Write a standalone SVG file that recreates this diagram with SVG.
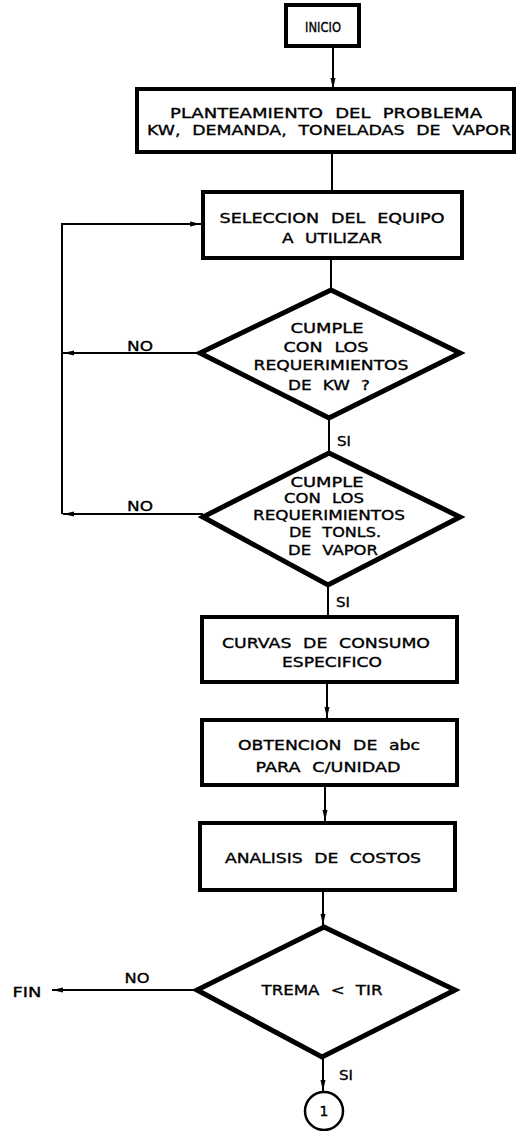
<svg xmlns="http://www.w3.org/2000/svg" width="517" height="1131" viewBox="0 0 517 1131">
<style>
.box{fill:#fff;stroke:#000;stroke-width:4}
.dia{fill:#fff;stroke:#000;stroke-width:5;stroke-linejoin:miter}
.ln{fill:none;stroke:#000;stroke-width:2}
text{font-family:"DejaVu Sans","Liberation Sans",sans-serif;font-size:14px;fill:#000;stroke:#000;stroke-width:0.35;text-anchor:middle;dominant-baseline:central;word-spacing:5px}
</style>
<defs>
<marker id="ah" markerUnits="userSpaceOnUse" markerWidth="12" markerHeight="6" refX="11" refY="3" orient="auto">
<path d="M0,0.5 L11,3 L0,5.5 Z" fill="#000"/>
</marker>
</defs>
<g id="connectors">
<line class="ln" x1="333" y1="46" x2="333" y2="89" marker-end="url(#ah)"/>
<line class="ln" x1="332" y1="152" x2="332" y2="192"/>
<line class="ln" x1="331" y1="258" x2="331" y2="290"/>
<line class="ln" x1="329" y1="418" x2="329" y2="453"/>
<line class="ln" x1="200" y1="353" x2="63" y2="353" marker-end="url(#ah)"/>
<line class="ln" x1="203" y1="514" x2="63" y2="514" marker-end="url(#ah)"/>
<polyline class="ln" points="62,514 62,224 201,224" marker-end="url(#ah)"/>
<line class="ln" x1="328" y1="585" x2="328" y2="617"/>
<line class="ln" x1="327" y1="682" x2="327" y2="718" marker-end="url(#ah)"/>
<line class="ln" x1="325" y1="785" x2="325" y2="821" marker-end="url(#ah)"/>
<line class="ln" x1="323" y1="890" x2="323" y2="925" marker-end="url(#ah)"/>
<line class="ln" x1="197" y1="990" x2="52" y2="990" marker-end="url(#ah)"/>
<line class="ln" x1="323" y1="1057" x2="323" y2="1091" marker-end="url(#ah)"/>
<text x="140" y="346" textLength="26" lengthAdjust="spacingAndGlyphs">NO</text>
<text x="344" y="441" textLength="14" lengthAdjust="spacingAndGlyphs">SI</text>
<text x="140" y="506" textLength="26" lengthAdjust="spacingAndGlyphs">NO</text>
<text x="343" y="602" textLength="14" lengthAdjust="spacingAndGlyphs">SI</text>
<text x="137" y="978" textLength="25" lengthAdjust="spacingAndGlyphs">NO</text>
<text x="346" y="1075" textLength="14" lengthAdjust="spacingAndGlyphs">SI</text>
</g>
<g id="inicio">
<rect class="box" x="286" y="5" width="73" height="41"/>
<text x="323" y="27" textLength="36" lengthAdjust="spacingAndGlyphs">INICIO</text>
</g>
<g id="planteamiento">
<rect class="box" x="137" y="89" width="377" height="63"/>
<text x="326" y="113" textLength="312" lengthAdjust="spacingAndGlyphs">PLANTEAMIENTO DEL PROBLEMA</text>
<text x="329" y="130" textLength="364" lengthAdjust="spacingAndGlyphs">KW, DEMANDA, TONELADAS DE VAPOR</text>
</g>
<g id="seleccion">
<rect class="box" x="203" y="192" width="259" height="66"/>
<text x="332" y="218" textLength="225" lengthAdjust="spacingAndGlyphs">SELECCION DEL EQUIPO</text>
<text x="332" y="238" textLength="100" lengthAdjust="spacingAndGlyphs">A UTILIZAR</text>
</g>
<g id="decision-kw">
<polygon class="dia" points="331,290 460,353 329,418 200,353"/>
<text x="327" y="328" textLength="73" lengthAdjust="spacingAndGlyphs">CUMPLE</text>
<text x="326" y="347" textLength="85" lengthAdjust="spacingAndGlyphs">CON LOS</text>
<text x="331" y="365" textLength="155" lengthAdjust="spacingAndGlyphs">REQUERIMIENTOS</text>
<text x="329" y="385" textLength="82" lengthAdjust="spacingAndGlyphs">DE KW ?</text>
</g>
<g id="decision-vapor">
<polygon class="dia" points="329,453 460,517 328,585 203,517"/>
<text x="327" y="482" textLength="73" lengthAdjust="spacingAndGlyphs">CUMPLE</text>
<text x="324" y="498" textLength="80" lengthAdjust="spacingAndGlyphs">CON LOS</text>
<text x="329" y="515" textLength="152" lengthAdjust="spacingAndGlyphs">REQUERIMIENTOS</text>
<text x="335" y="532" textLength="92" lengthAdjust="spacingAndGlyphs">DE TONLS.</text>
<text x="333" y="550" textLength="90" lengthAdjust="spacingAndGlyphs">DE VAPOR</text>
</g>
<g id="curvas">
<rect class="box" x="202" y="617" width="255" height="65"/>
<text x="326" y="643" textLength="208" lengthAdjust="spacingAndGlyphs">CURVAS DE CONSUMO</text>
<text x="332" y="662" textLength="100" lengthAdjust="spacingAndGlyphs">ESPECIFICO</text>
</g>
<g id="obtencion">
<rect class="box" x="202" y="720" width="255" height="65"/>
<text x="329" y="745" textLength="182" lengthAdjust="spacingAndGlyphs">OBTENCION DE abc</text>
<text x="328" y="767" textLength="145" lengthAdjust="spacingAndGlyphs">PARA C/UNIDAD</text>
</g>
<g id="analisis">
<rect class="box" x="200" y="823" width="255" height="67"/>
<text x="323" y="858" textLength="196" lengthAdjust="spacingAndGlyphs">ANALISIS DE COSTOS</text>
</g>
<g id="decision-tir">
<polygon class="dia" points="324,927 455,990 322,1057 197,990"/>
<text x="322" y="990" textLength="121" lengthAdjust="spacingAndGlyphs">TREMA &lt; TIR</text>
</g>
<g id="fin">
<text x="27" y="992" textLength="29" lengthAdjust="spacingAndGlyphs">FIN</text>
</g>
<g id="conector-1">
<circle cx="324" cy="1111" r="19" fill="#fff" stroke="#000" stroke-width="2.5"/>
<text x="324" y="1111" font-size="12">1</text>
</g>
</svg>
